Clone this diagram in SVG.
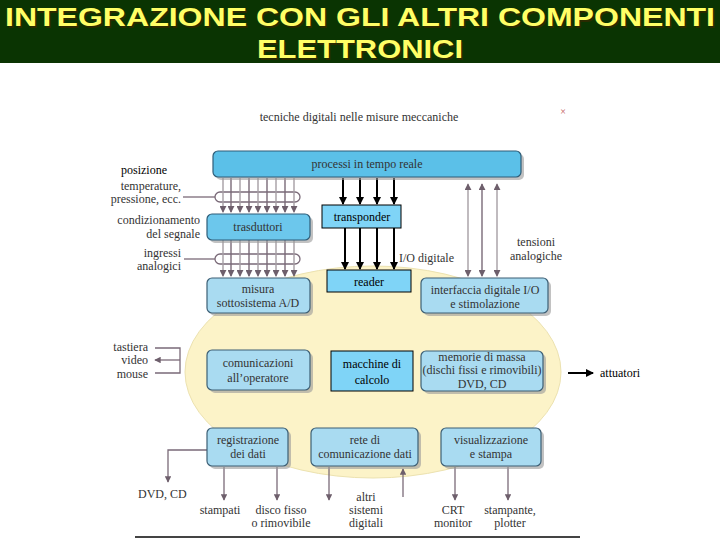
<svg xmlns="http://www.w3.org/2000/svg" width="720" height="540" viewBox="0 0 720 540">
<defs>
<style>
.title{font-weight:bold;font-size:25px;fill:#ffff66;text-anchor:middle}
.tshadow{font-weight:bold;font-size:25px;fill:#2a2a00;text-anchor:middle}
.g{font-size:12px;fill:#333}
.gc{font-size:12px;fill:#333;text-anchor:middle}
.gr{font-size:12px;fill:#333;text-anchor:end}
.t{font-size:12px;fill:#000}
.tc{font-size:12px;fill:#000;text-anchor:middle}
.dark{fill:#5bc0e8;stroke:#2f5d78;stroke-width:1.2}
.mid{fill:#6cc7ec;stroke:#2f5d78;stroke-width:1.2}
.light{fill:#a9dbf1;stroke:#3d5f75;stroke-width:1.2}
.sh{fill:#9a9a9a;opacity:0.6}
.sq{fill:#7fd4f7;stroke:#000;stroke-width:1}
.bus{stroke:#7a6a78;stroke-width:1.4;fill:none}
.busl{stroke:#a59ea4;stroke-width:1.4;fill:none}
.gl{stroke:#7a6a78;stroke-width:1.3;fill:none}
.bk{stroke:#000;stroke-width:2;fill:none}
</style>
<marker id="ag" viewBox="0 0 8 8" refX="7" refY="4" markerWidth="5" markerHeight="5" orient="auto-start-reverse"><path d="M0,0 L8,4 L0,8 z" fill="#6e5f6c"/></marker>
<marker id="ab" viewBox="0 0 8 8" refX="7" refY="4" markerWidth="4" markerHeight="4" orient="auto"><path d="M0,0 L8,4 L0,8 z" fill="#000"/></marker>
</defs>

<rect x="0" y="0" width="720" height="63" fill="#0a3402"/>
<g font-family="'Liberation Sans', Arial, sans-serif">
<text class="tshadow" x="361.5" y="27.5" textLength="710" lengthAdjust="spacingAndGlyphs">INTEGRAZIONE CON GLI ALTRI COMPONENTI</text>
<text class="title" x="360" y="26" textLength="710" lengthAdjust="spacingAndGlyphs">INTEGRAZIONE CON GLI ALTRI COMPONENTI</text>
<text class="tshadow" x="361.5" y="59.5" textLength="206" lengthAdjust="spacingAndGlyphs">ELETTRONICI</text>
<text class="title" x="360" y="58" textLength="206" lengthAdjust="spacingAndGlyphs">ELETTRONICI</text>
</g>

<g font-family="'Liberation Serif', 'Times New Roman', serif">
<text class="gc" x="359" y="121" font-size="13">tecniche digitali nelle misure meccaniche</text>
<text x="563" y="115" font-size="10" fill="#c05050" text-anchor="middle">×</text>
</g>

<ellipse cx="373" cy="372" rx="188" ry="106" fill="#fcf3c8" stroke="#ece2b0" stroke-width="1"/>

<g id="connectors">
<rect x="215" y="192" width="85" height="10" rx="5" class="gl"/>
<line x1="183" y1="197" x2="215" y2="197" class="gl"/>
<path class="busl" d="M223,178V212" marker-end="url(#ag)"/>
<path class="bus" d="M231,178V212" marker-end="url(#ag)"/>
<path class="busl" d="M240,178V212" marker-end="url(#ag)"/>
<path class="bus" d="M249,178V212" marker-end="url(#ag)"/>
<path class="busl" d="M258,178V212" marker-end="url(#ag)"/>
<path class="bus" d="M267,178V212" marker-end="url(#ag)"/>
<path class="busl" d="M276,178V212" marker-end="url(#ag)"/>
<path class="bus" d="M285,178V212" marker-end="url(#ag)"/>
<path class="busl" d="M294,178V212" marker-end="url(#ag)"/>
<rect x="215" y="254" width="85" height="10" rx="5" class="gl"/>
<line x1="184" y1="259" x2="215" y2="259" class="gl"/>
<path class="busl" d="M223,240V276" marker-end="url(#ag)"/>
<path class="bus" d="M231,240V276" marker-end="url(#ag)"/>
<path class="busl" d="M240,240V276" marker-end="url(#ag)"/>
<path class="bus" d="M249,240V276" marker-end="url(#ag)"/>
<path class="busl" d="M258,240V276" marker-end="url(#ag)"/>
<path class="bus" d="M267,240V276" marker-end="url(#ag)"/>
<path class="busl" d="M276,240V276" marker-end="url(#ag)"/>
<path class="bus" d="M285,240V276" marker-end="url(#ag)"/>
<path class="busl" d="M294,240V276" marker-end="url(#ag)"/>
<path class="bk" d="M343,178V204" marker-end="url(#ab)"/>
<path class="bk" d="M360,178V204" marker-end="url(#ab)"/>
<path class="bk" d="M377,178V204" marker-end="url(#ab)"/>
<path class="bk" d="M394,178V204" marker-end="url(#ab)"/>
<path class="bk" d="M345,228V269" marker-end="url(#ab)"/>
<path class="bk" d="M360,228V269" marker-end="url(#ab)"/>
<path class="bk" d="M377,228V269" marker-end="url(#ab)"/>
<path class="bk" d="M394,228V269" marker-end="url(#ab)"/>
<path class="busl" d="M468,184V276" marker-start="url(#ag)" marker-end="url(#ag)"/>
<path class="bus" d="M482,184V276" marker-start="url(#ag)" marker-end="url(#ag)"/>
<path class="busl" d="M497,184V276" marker-start="url(#ag)" marker-end="url(#ag)"/>
<path class="gl" d="M155,348H180V373H155"/>
<path class="gl" d="M180,360H155" marker-end="url(#ag)"/>
<path class="bk" d="M568,373H593" marker-end="url(#ab)"/>
<path class="gl" d="M207,450H168V482" marker-end="url(#ag)"/>
<path class="gl" d="M224,467V500" marker-end="url(#ag)"/>
<path class="gl" d="M277,467V500" marker-end="url(#ag)"/>
<path class="gl" d="M329,467V500" marker-end="url(#ag)"/>
<path class="gl" d="M403,497V469" marker-end="url(#ag)"/>
<path class="gl" d="M455,467V500" marker-end="url(#ag)"/>
<path class="gl" d="M508,467V500" marker-end="url(#ag)"/>
<line x1="135" y1="537" x2="580" y2="537" stroke="#444" stroke-width="2"/>
</g>

<g font-family="'Liberation Serif', 'Times New Roman', serif">
<g id="processi">
<rect x="216" y="154" width="308" height="26" rx="5" class="sh"/>
<rect x="213" y="151" width="308" height="26" rx="5" class="dark"/>
<text class="gc" x="367" y="168" font-size="13">processi in tempo reale</text>
</g>
<g id="trasduttori">
<rect x="210" y="217" width="103" height="26" rx="5" class="sh"/>
<rect x="207" y="214" width="103" height="26" rx="5" class="mid"/>
<text class="gc" x="258" y="231">trasduttori</text>
</g>
<g id="misura">
<rect x="210" y="281" width="103" height="35" rx="5" class="sh"/>
<rect x="207" y="278" width="103" height="35" rx="5" class="light"/>
<text class="gc" x="258" y="293">misura</text>
<text class="gc" x="258" y="307">sottosistema A/D</text>
</g>
<g id="transponder">
<rect x="322" y="205" width="79" height="23" class="sq"/>
<text class="tc" x="362" y="221">transponder</text>
</g>
<g id="reader">
<rect x="327" y="270" width="84" height="22" class="sq"/>
<text class="tc" x="369" y="286">reader</text>
</g>
<g id="interfaccia">
<rect x="424" y="281" width="127" height="35" rx="5" class="sh"/>
<rect x="421" y="278" width="127" height="35" rx="5" class="light"/>
<text class="gc" x="485" y="294">interfaccia digitale I/O</text>
<text class="gc" x="485" y="308">e stimolazione</text>
</g>
<g id="comunicazioni">
<rect x="210" y="353" width="103" height="40" rx="5" class="sh"/>
<rect x="207" y="350" width="103" height="40" rx="5" class="light"/>
<text class="gc" x="258" y="367">comunicazioni</text>
<text class="gc" x="258" y="382">all’operatore</text>
</g>
<g id="macchine">
<rect x="331" y="351" width="82" height="40" class="sq"/>
<text class="tc" x="372" y="368">macchine di</text>
<text class="tc" x="372" y="384">calcolo</text>
</g>
<g id="memorie">
<rect x="424" y="354" width="122" height="40" rx="5" class="sh"/>
<rect x="421" y="351" width="122" height="40" rx="5" class="light"/>
<text class="gc" x="482" y="361" font-size="10.5">memorie di massa</text>
<text class="gc" x="482" y="374" font-size="10.5">(dischi fissi e rimovibili)</text>
<text class="gc" x="482" y="388" font-size="12">DVD, CD</text>
</g>
<g id="registrazione">
<rect x="210" y="431" width="81" height="38" rx="5" class="sh"/>
<rect x="207" y="428" width="81" height="38" rx="5" class="light"/>
<text class="gc" x="248" y="444">registrazione</text>
<text class="gc" x="248" y="458">dei dati</text>
</g>
<g id="rete">
<rect x="314" y="431" width="107" height="38" rx="5" class="sh"/>
<rect x="311" y="428" width="107" height="38" rx="5" class="light"/>
<text class="gc" x="365" y="444">rete di</text>
<text class="gc" x="365" y="458">comunicazione dati</text>
</g>
<g id="visualizzazione">
<rect x="444" y="431" width="100" height="38" rx="5" class="sh"/>
<rect x="441" y="428" width="100" height="38" rx="5" class="light"/>
<text class="gc" x="491" y="444">visualizzazione</text>
<text class="gc" x="491" y="458">e stampa</text>
</g>

<g id="labels">
<text class="t" x="121" y="174">posizione</text>
<text class="gr" x="181" y="190">temperature,</text>
<text class="gr" x="181" y="203">pressione, ecc.</text>
<text class="gr" x="200" y="224">condizionamento</text>
<text class="gr" x="200" y="238">del segnale</text>
<text class="gr" x="181" y="257">ingressi</text>
<text class="gr" x="181" y="270">analogici</text>
<text class="g" x="399" y="262">I/O digitale</text>
<text class="gc" x="536" y="246">tensioni</text>
<text class="gc" x="536" y="260">analogiche</text>
<text class="gr" x="148" y="351">tastiera</text>
<text class="gr" x="148" y="364">video</text>
<text class="gr" x="148" y="378">mouse</text>
<text class="t" x="600" y="377">attuatori</text>
<text class="g" x="138" y="498">DVD, CD</text>
<text class="gc" x="220" y="514">stampati</text>
<text class="gc" x="281" y="514">disco fisso</text>
<text class="gc" x="281" y="527">o rimovibile</text>
<text class="gc" x="366" y="501">altri</text>
<text class="gc" x="366" y="514">sistemi</text>
<text class="gc" x="366" y="527">digitali</text>
<text class="gc" x="453" y="514">CRT</text>
<text class="gc" x="453" y="527">monitor</text>
<text class="gc" x="510" y="514">stampante,</text>
<text class="gc" x="510" y="527">plotter</text>
</g>
</g>
</svg>
